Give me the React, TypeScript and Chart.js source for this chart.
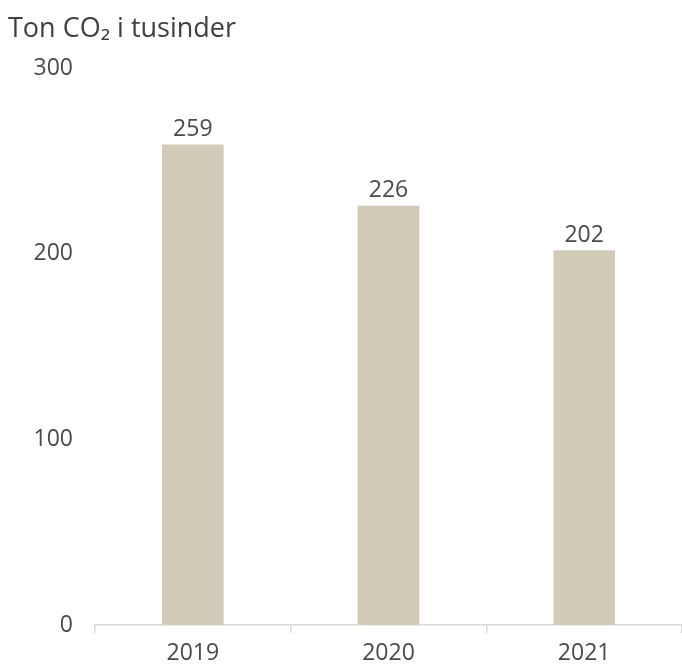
import React, { useEffect, useRef } from "react";
import { Chart, registerables } from "chart.js";

Chart.register(...registerables);

const categories = ["2019", "2020", "2021"];
const emissions = [259, 226, 202];
const yTicks = [0, 100, 200, 300];
const titleText = "Ton CO\u2082 i tusinder";

const FONT = "'Open Sans', 'Noto Sans', sans-serif";
const TEXT = "#404040";
const TICK_TEXT = "#4a4a4a";

const valueLabels = {
  id: "valueLabels",
  afterDatasetsDraw(chart: any) {
    const ctx = chart.ctx;
    const meta = chart.getDatasetMeta(0);
    ctx.save();
    ctx.font = `23px ${FONT}`;
    ctx.fillStyle = TICK_TEXT;
    ctx.textAlign = "center";
    ctx.textBaseline = "middle";
    meta.data.forEach((bar: any, i: number) => {
      ctx.fillText(String(emissions[i]), bar.x, bar.y - 15);
    });
    ctx.restore();
  },
};

export default function App() {
  const ref = useRef<HTMLCanvasElement | null>(null);
  useEffect(() => {
    if (!ref.current) return;
    const chart = new Chart(ref.current, {
      type: "bar",
      data: {
        labels: categories,
        datasets: [
          {
            data: emissions,
            backgroundColor: "#d2cbb7",
            barPercentage: 0.315,
            categoryPercentage: 1,
          },
        ],
      },
      options: {
        animation: false,
        responsive: false,
        maintainAspectRatio: false,
        layout: { padding: { left: 8, right: 0, top: 0, bottom: 0 } },
        plugins: {
          legend: { display: false },
          tooltip: { enabled: false },
          title: {
            display: true,
            text: titleText,
            align: "start",
            color: TEXT,
            font: { family: FONT, size: 27, weight: "normal" as any, lineHeight: 1.2 },
            padding: { top: 13, bottom: 23 },
          },
        },
        scales: {
          x: {
            grid: {
              offset: true,
              drawOnChartArea: false,
              drawTicks: true,
              tickLength: 8,
              color: "#d9d9d9",
              lineWidth: 1.5,
            },
            border: { display: true, color: "#d9d9d9", width: 1.5 },
            ticks: {
              color: TICK_TEXT,
              font: { family: FONT, size: 23 },
              padding: 7,
            },
            afterFit(scale: any) {
              scale.height = 39;
            },
          },
          y: {
            min: 0,
            max: 300,
            afterBuildTicks(scale: any) {
              scale.ticks = yTicks.map((v) => ({ value: v }));
            },
            grid: { display: false, drawTicks: false },
            border: { display: false },
            ticks: {
              color: TICK_TEXT,
              font: { family: FONT, size: 23 },
              padding: 22,
            },
            afterFit(scale: any) {
              scale.width = 87;
            },
          },
        },
      },
      plugins: [valueLabels],
    });
    return () => chart.destroy();
  }, []);
  return (
    <div style={{ position: "absolute", left: 0, top: 0, width: 682, height: 664 }}>
      <canvas ref={ref} width={682} height={664} style={{ display: "block" }} />
    </div>
  );
}
